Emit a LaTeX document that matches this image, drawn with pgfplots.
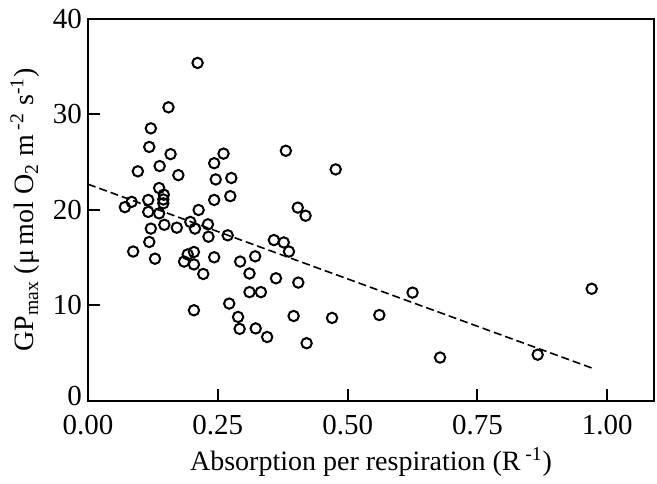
\documentclass[border=0pt]{standalone}
\usepackage{fontspec}
\setmainfont{Liberation Serif}
\usepackage{pgfplots}
\pgfplotsset{compat=1.18}
\begin{document}
\fontsize{14}{16}\selectfont
\begin{tikzpicture}
\begin{axis}[
  scale only axis,
  width=283pt, height=191pt,
  xmin=0, xmax=1.09, ymin=0, ymax=40,
  axis line style={line width=1pt},
  xtick={0,0.25,0.5,0.75,1.0},
  xticklabels={0.00,0.25,0.50,0.75,1.00},
  ytick={10,20,30,40},
  extra y ticks={0},
  extra y tick style={yticklabel style={yshift=2.5pt}},
  xtick pos=bottom, ytick pos=left,
  tick align=inside,
  major tick length=6pt,
  tick style={line width=1pt, black},
  /pgf/number format/assume math mode=true,
  ticklabel style={font=\fontsize{14.5}{16}\selectfont, inner sep=0.5pt},
  xticklabel style={yshift=-6.3pt},
  yticklabel style={xshift=-2.3pt},
  xlabel={Absorption per respiration (R\,\textsuperscript{-1})},
  ylabel={GP\textsubscript{max} (μ\,mol O\textsubscript{2} m\,\textsuperscript{-2} s\textsuperscript{-1})},
  label style={font=\fontsize{14}{16}\selectfont},
  xlabel style={at={(axis description cs:0.5,0)}, anchor=center, yshift=-30.5pt},
  ylabel style={at={(axis description cs:0,0.5)}, anchor=center, yshift=31.5pt},
  clip=false,
]
\coordinate (SW) at (rel axis cs:0,0);
\coordinate (NE) at (rel axis cs:1,1);
\addplot[only marks, mark=o, mark size=2.6pt, mark options={line width=1pt, black}] coordinates {
(0.211,35.4) (0.155,30.75) (0.121,28.55) (0.118,26.6) (0.159,25.85)
(0.261,25.9) (0.381,26.2) (0.477,24.25) (0.096,24.05) (0.138,24.6)
(0.243,24.9) (0.174,23.65) (0.246,23.2) (0.276,23.35) (0.137,22.3)
(0.146,21.6) (0.145,21.1) (0.145,20.7) (0.116,21.05) (0.243,21.05)
(0.274,21.45) (0.084,20.85) (0.071,20.3) (0.213,20.0) (0.116,19.8)
(0.137,19.65) (0.404,20.25) (0.419,19.4) (0.147,18.45) (0.171,18.15)
(0.121,18.05) (0.197,18.75) (0.206,18.05) (0.231,18.5) (0.232,17.2)
(0.269,17.35) (0.118,16.65) (0.087,15.65) (0.129,14.9) (0.185,14.6)
(0.192,15.35) (0.204,15.6) (0.204,14.3) (0.222,13.3) (0.243,15.05)
(0.293,14.6) (0.322,15.15) (0.311,13.35) (0.358,16.85) (0.377,16.6)
(0.387,15.65) (0.362,12.85) (0.405,12.4) (0.311,11.4) (0.333,11.4)
(0.204,9.5) (0.272,10.2) (0.289,8.8) (0.292,7.55) (0.323,7.6)
(0.345,6.7) (0.396,8.9) (0.421,6.05) (0.470,8.7) (0.561,9.0)
(0.625,11.35) (0.678,4.55) (0.866,4.85) (0.970,11.75)
};
\addplot[black, line width=0.8pt, dash pattern=on 4pt off 2pt] coordinates {(0,22.7) (0.972,3.42)};
\end{axis}
\pgfresetboundingbox
\path ([shift={(-44pt,-41.5pt)}]SW) rectangle ([shift={(1.5pt,9.5pt)}]NE);
\end{tikzpicture}
\end{document}
